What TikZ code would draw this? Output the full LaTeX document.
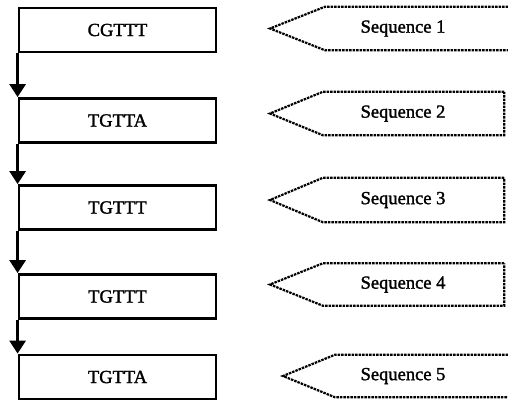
\documentclass[tikz,border=0pt]{standalone}
\usepackage{fontspec}
\setmainfont{Liberation Serif}
\newfontfamily\labelfont[FakeBold=1.6]{Liberation Serif}
\usetikzlibrary{arrows.meta}
\begin{document}
\begin{tikzpicture}[x=1pt, y=-1pt,
  seqbox/.style={draw, line width=2.8pt, minimum width=197pt, minimum height=44pt,
    inner sep=0pt, font=\labelfont\fontsize{18.5}{20}\selectfont},
  flow/.style={line width=2.8pt, -{Triangle[width=16pt,length=13pt]}},
  tagbody/.style={inner sep=0pt},
  tag/.style={line width=2.2pt, dash pattern=on 2.5pt off 1pt, line join=miter},
  lbl/.style={inner sep=0pt, font=\labelfont\fontsize{18.5}{20}\selectfont}]
  \clip (0,0) rectangle (508,400);
  \fill[white] (0,0) rectangle (508,400);

  % sequence boxes on the left
  \node[seqbox] (b1) at (117.5, 30)    {CGTTT};
  \node[seqbox] (b2) at (117.5, 120.5) {TGTTA};
  \node[seqbox] (b3) at (117.5, 207.5) {TGTTT};
  \node[seqbox] (b4) at (117.5, 296.5) {TGTTT};
  \node[seqbox] (b5) at (117.5, 377)   {TGTTA};

  % downward flow along the left edge
  \draw[flow] (b1.south west) -- (b2.north west);
  \draw[flow] (b2.south west) -- (b3.north west);
  \draw[flow] (b3.south west) -- (b4.north west);
  \draw[flow] (b4.south west) -- (b5.north west);

  % pointer tags on the right
  \node[tagbody, minimum width=190pt, minimum height=43pt] (r1) at (420, 28.5) {};
  \node[tagbody, minimum width=181pt, minimum height=43pt] (r2) at (413.5, 113.5) {};
  \node[tagbody, minimum width=181pt, minimum height=44pt] (r3) at (413.5, 200) {};
  \node[tagbody, minimum width=181pt, minimum height=42pt] (r4) at (413.5, 284.5) {};
  \node[tagbody, minimum width=180pt, minimum height=42pt] (r5) at (425, 376) {};

  \coordinate (t1) at (270, 28.5);
  \coordinate (t2) at (270, 113.5);
  \coordinate (t3) at (270, 200);
  \coordinate (t4) at (270, 284.5);
  \coordinate (t5) at (283, 376);

  \foreach \i in {1,...,5}
    \draw[tag] (r\i.north east) -- (r\i.north west) -- (t\i) -- (r\i.south west)
      -- (r\i.south east) -- cycle;

  \node[lbl] (l1) at (403, 28.5)  {Sequence 1};
  \node[lbl] (l2) at (403, 113.5) {Sequence 2};
  \node[lbl] (l3) at (403, 200)   {Sequence 3};
  \node[lbl] (l4) at (403, 284.5) {Sequence 4};
  \node[lbl] (l5) at (403, 376)   {Sequence 5};
\end{tikzpicture}
\end{document}
